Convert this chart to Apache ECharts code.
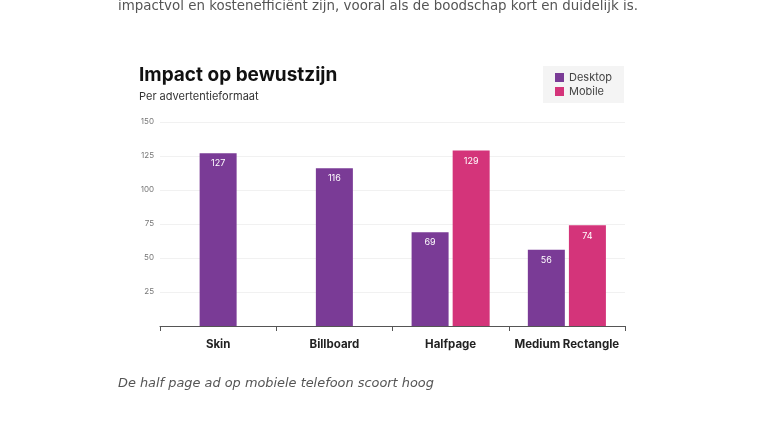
<!DOCTYPE html>
<html><head><meta charset="utf-8">
<script src="https://cdn.jsdelivr.net/npm/echarts@6/dist/echarts.min.js"></script>
<style>html,body{margin:0;padding:0;background:#fff}#c{width:760px;height:428px}</style>
</head><body><div id="c"></div>
<script>
const categories = ['Skin', 'Billboard', 'Halfpage', 'Medium Rectangle'];
const desktopSolo = [127, 116, null, null];
const desktopPaired = [null, null, 69, 56];
const mobilePaired = [null, null, 129, 74];
const yTicks = [0, 25, 50, 75, 100, 125, 150];

const purple = '#7a3b96';
const pink = '#d4347a';
const chart = echarts.init(document.getElementById('c'));
const barLabel = {show: true, position: 'insideTop', distance: 6, color: '#fff', fontSize: 9, fontFamily: 'Inter'};
chart.setOption({
  animation: false,
  graphic: [
    {type: 'text', left: 118, top: 0, style: {text: 'impactvol en kostenefficiënt zijn, vooral als de boodschap kort en duidelijk is.', fill: '#555', font: '13.4px "DejaVu Sans"'}},
    {type: 'text', left: 118, top: 377, style: {text: 'De half page ad op mobiele telefoon scoort hoog', fill: '#555', font: 'italic 12.9px "DejaVu Sans"'}}
  ],
  title: {
    text: 'Impact op bewustzijn', subtext: 'Per advertentieformaat',
    left: 134, top: 61, itemGap: 6,
    textStyle: {fontFamily: 'Inter', fontWeight: 'bold', fontSize: 19, color: '#111'},
    subtextStyle: {fontFamily: 'Inter', fontSize: 11, color: '#333'}
  },
  legend: {
    data: ['Desktop', 'Mobile'], orient: 'vertical', left: 543, top: 66,
    backgroundColor: '#f4f4f4', padding: [6, 12, 6, 12], itemGap: 3,
    itemWidth: 9, itemHeight: 9, icon: 'rect',
    textStyle: {fontFamily: 'Inter', fontSize: 11, color: '#444'}
  },
  grid: {left: 160, right: 135, top: 122, bottom: 102},
  xAxis: [
    {type: 'category', data: categories,
     axisLine: {lineStyle: {color: '#555'}},
     axisTick: {show: true, interval: 0, length: 5, lineStyle: {color: '#555'}},
     axisLabel: {interval: 0, margin: 13, fontFamily: 'Inter', fontWeight: 'bold', fontSize: 11.5, color: '#222'}},
    {type: 'category', data: categories, position: 'bottom', show: false}
  ],
  yAxis: {
    type: 'value', min: yTicks[0], max: yTicks[yTicks.length - 1], interval: 25,
    axisLine: {show: false}, axisTick: {show: false},
    splitLine: {lineStyle: {color: '#f1f1f1'}},
    axisLabel: {margin: 6, fontFamily: 'Inter', fontSize: 8, color: '#777',
      formatter: v => v === 0 ? '' : String(v)}
  },
  series: [
    {name: 'Desktop', type: 'bar', xAxisIndex: 1, data: desktopSolo, barWidth: 37,
     itemStyle: {color: purple}, label: barLabel},
    {name: 'Desktop', type: 'bar', xAxisIndex: 0, data: desktopPaired, barWidth: 37, barGap: '11%',
     itemStyle: {color: purple}, label: barLabel},
    {name: 'Mobile', type: 'bar', xAxisIndex: 0, data: mobilePaired, barWidth: 37, barGap: '11%',
     itemStyle: {color: pink}, label: barLabel}
  ]
});
</script></body></html>
